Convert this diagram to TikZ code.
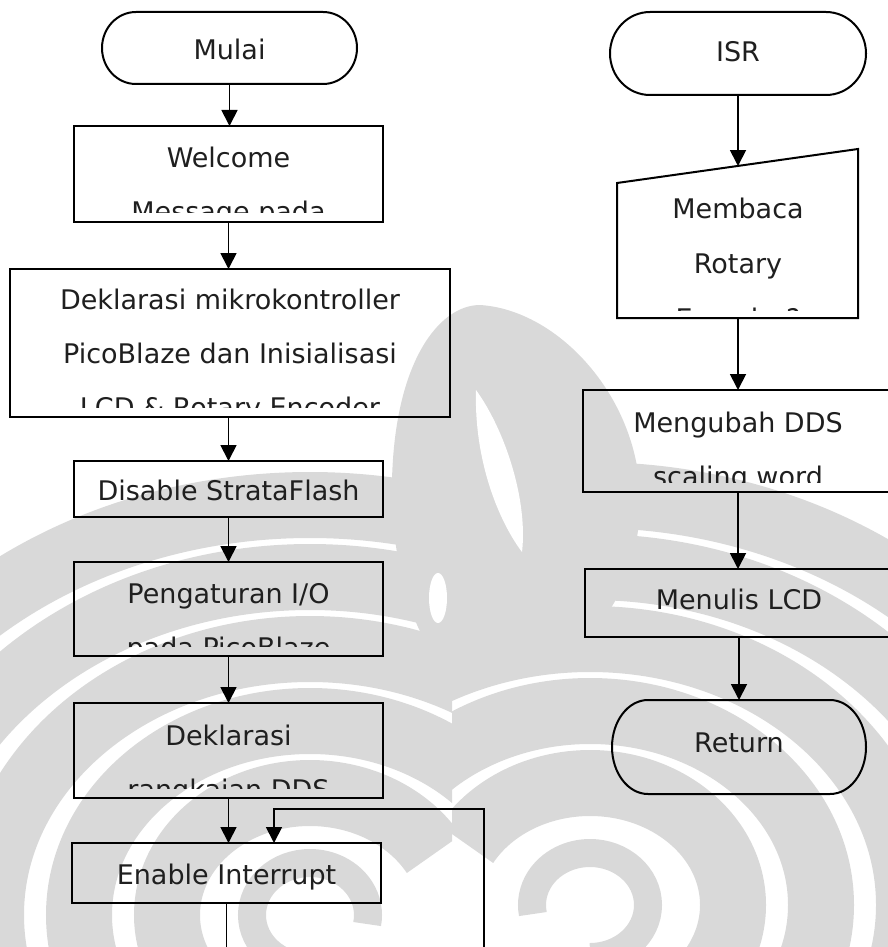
\documentclass[tikz,border=0pt]{standalone}
\usepackage{fontspec}
\setmainfont{DejaVu Sans}
\usetikzlibrary{arrows.meta}

\begin{document}
\begin{tikzpicture}[x=1pt,y=1pt,
  outline/.style={draw=black, line width=2pt},
  stepbox/.style={outline, rectangle, inner sep=0pt, outer sep=0pt, anchor=north west},
  termbox/.style={rectangle, inner sep=0pt, outer sep=0pt, anchor=north west},
  flow/.style={line width=1.8pt, -{Triangle[width=16pt,length=16pt]}},
  plain/.style={line width=1.8pt},
  lbl/.style={font=\fontsize{27}{32}\selectfont, text=black!88, anchor=base, inner sep=0pt},
  wmband/.style={draw=wm, line width=66pt}
]
\colorlet{wm}{black!15}
\useasboundingbox (0,-947) rectangle (888,0);
\clip (0,-947) rectangle (888,0);

% ---------- faint emblem in the background ----------
\begin{scope}
  \clip (0,-947) rectangle (452,0);
  \foreach \k in {1,...,5} {
    \pgfmathsetmacro\rx{55+88*\k}
    \pgfmathsetmacro\ry{50+72*\k}
    \draw[wmband] (310,-915) ++(270:\rx pt and \ry pt)
      arc[start angle=270, end angle=30, x radius=\rx pt, y radius=\ry pt];
  }
  \draw[draw=wm, line width=28pt] (310,-915) ++(270:58pt and 52pt)
    arc[start angle=270, end angle=-10, x radius=58pt, y radius=52pt];
\end{scope}
\begin{scope}
  \clip (452,-947) rectangle (888,0);
  \foreach \k in {1,...,5} {
    \pgfmathsetmacro\rx{55+88*\k}
    \pgfmathsetmacro\ry{50+72*\k}
    \draw[wmband] (590,-905) ++(-90:\rx pt and \ry pt)
      arc[start angle=-90, end angle=150, x radius=\rx pt, y radius=\ry pt];
  }
  \draw[draw=wm, line width=28pt] (590,-905) ++(-90:58pt and 52pt)
    arc[start angle=-90, end angle=190, x radius=58pt, y radius=52pt];
\end{scope}
% central crown with its light slit
\fill[wm] (392,-480) .. controls (395,-360) and (440,-305) .. (480,-305)
  .. controls (560,-310) and (640,-400) .. (640,-500)
  .. controls (640,-580) and (600,-640) .. (560,-650) -- (430,-650)
  .. controls (400,-600) and (392,-540) .. cycle;
\fill[white] (476,-390) .. controls (505,-430) and (528,-500) .. (522,-552)
  .. controls (498,-520) and (474,-460) .. cycle;
\fill[white] (438,-598) ellipse[x radius=9pt, y radius=25pt];

% ---------- terminator outline with elliptic ends ----------
\newcommand\terminator[3]{%
  \draw[outline] ([xshift=#2pt]#1.north west) -- ([xshift=-#2pt]#1.north east)
    arc[start angle=90, end angle=-90, x radius=#2pt, y radius=#3pt]
    -- ([xshift=#2pt]#1.south west)
    arc[start angle=270, end angle=90, x radius=#2pt, y radius=#3pt] -- cycle;}

% ---------- main program ----------
\node[termbox, minimum width=255pt, minimum height=72pt] (mulai) at (102,-12) {};
\terminator{mulai}{34}{36}
\node[lbl] at ([yshift=-48pt]mulai.north) {Mulai};

\node[stepbox, minimum width=309pt, minimum height=96pt] (welcome) at (74,-126) {};
\begin{scope}
  \clip (welcome.north west) rectangle ([yshift=10pt]welcome.south east);
  \node[lbl] at ([yshift=-41pt]welcome.north) {Welcome};
  \node[lbl] at ([yshift=-95pt]welcome.north) {Message pada};
\end{scope}

\node[stepbox, minimum width=440pt, minimum height=148pt] (dekl) at (10,-269) {};
\begin{scope}
  \clip (dekl.north west) rectangle ([yshift=10pt]dekl.south east);
  \node[lbl] at ([yshift=-40pt]dekl.north) {Deklarasi mikrokontroller};
  \node[lbl] at ([yshift=-94pt]dekl.north) {PicoBlaze dan Inisialisasi};
  \node[lbl] at ([yshift=-148pt]dekl.north) {LCD \& Rotary Encoder};
\end{scope}

\node[stepbox, minimum width=309pt, minimum height=56pt] (disable) at (74,-461) {};
\node[lbl] at ([yshift=-39pt]disable.north) {Disable StrataFlash};

\node[stepbox, minimum width=309pt, minimum height=94pt] (pengat) at (74,-562) {};
\begin{scope}
  \clip (pengat.north west) rectangle ([yshift=10pt]pengat.south east);
  \node[lbl] at ([yshift=-41pt]pengat.north) {Pengaturan I/O};
  \node[lbl] at ([yshift=-95pt]pengat.north) {pada PicoBlaze};
\end{scope}

\node[stepbox, minimum width=309pt, minimum height=95pt] (dds) at (74,-703) {};
\begin{scope}
  \clip (dds.north west) rectangle ([yshift=10pt]dds.south east);
  \node[lbl] at ([yshift=-42pt]dds.north) {Deklarasi};
  \node[lbl] at ([yshift=-96pt]dds.north) {rangkaian DDS};
\end{scope}

\node[stepbox, minimum width=309pt, minimum height=60pt] (enable) at (72,-843) {};
\node[lbl] at ([yshift=-41pt]enable.north) {Enable Interrupt};

% connectors of the main program
\draw[flow] (mulai.south) -- (mulai.south |- welcome.north);
\draw[flow] (welcome.south) -- (welcome.south |- dekl.north);
\draw[flow] (dekl.south -| disable.north) -- (disable.north);
\draw[flow] (disable.south) -- (pengat.north);
\draw[flow] (pengat.south) -- (dds.north);
\draw[flow] (dds.south) -- (dds.south |- enable.north);

\coordinate (exit) at (enable.south |- 0,-950);
\draw[plain] (enable.south) -- (exit);

\coordinate (loopstart) at (484,-950);
\coordinate (bend) at (484,-809);
\coordinate (loopin) at ([xshift=47.5pt]enable.north);
\draw[flow] (loopstart) -- (bend) -| (loopin);

% ---------- interrupt service routine ----------
\node[termbox, minimum width=256pt, minimum height=83pt] (isr) at (610,-12) {};
\terminator{isr}{40}{41.5}
\node[lbl] at ([yshift=-50pt]isr.north) {ISR};

% manual input (slanted top)
\coordinate (in-tl) at (617,-183);
\coordinate (in-tr) at (858,-149);
\coordinate (in-br) at (858,-318);
\coordinate (in-bl) at (617,-318);
\coordinate (in-top) at (738,-166);
\coordinate (in-bot) at (738,-318);
\draw[outline] (in-tl) -- (in-tr) -- (in-br) -- (in-bl) -- cycle;
\begin{scope}
  \clip (in-tl) -- (in-tr) -- ([yshift=8pt]in-br) -- ([yshift=8pt]in-bl) -- cycle;
  \node[lbl] at (738,-218) {Membaca};
  \node[lbl] at (738,-273) {Rotary};
  \node[lbl] at (738,-328) {Encoder?};
\end{scope}

\node[stepbox, minimum width=310pt, minimum height=102pt] (ubah) at (583,-390) {};
\begin{scope}
  \clip (ubah.north west) rectangle ([yshift=10pt]ubah.south east);
  \node[lbl] at ([yshift=-42pt]ubah.north) {Mengubah DDS};
  \node[lbl] at ([yshift=-96pt]ubah.north) {scaling word};
\end{scope}

\node[stepbox, minimum width=308pt, minimum height=68pt] (tulis) at (585,-569) {};
\node[lbl] at ([yshift=-40pt]tulis.north) {Menulis LCD};

\node[termbox, minimum width=254pt, minimum height=94pt] (ret) at (612,-700) {};
\terminator{ret}{36}{47}
\node[lbl] at ([yshift=-52pt]ret.north) {Return};

% connectors of the interrupt routine
\draw[flow] (isr.south) -- (in-top);
\draw[flow] (in-bot) -- (ubah.north);
\draw[flow] (ubah.south) -- (ubah.south |- tulis.north);
\draw[flow] (tulis.south) -- (tulis.south |- ret.north);
\end{tikzpicture}
\end{document}
